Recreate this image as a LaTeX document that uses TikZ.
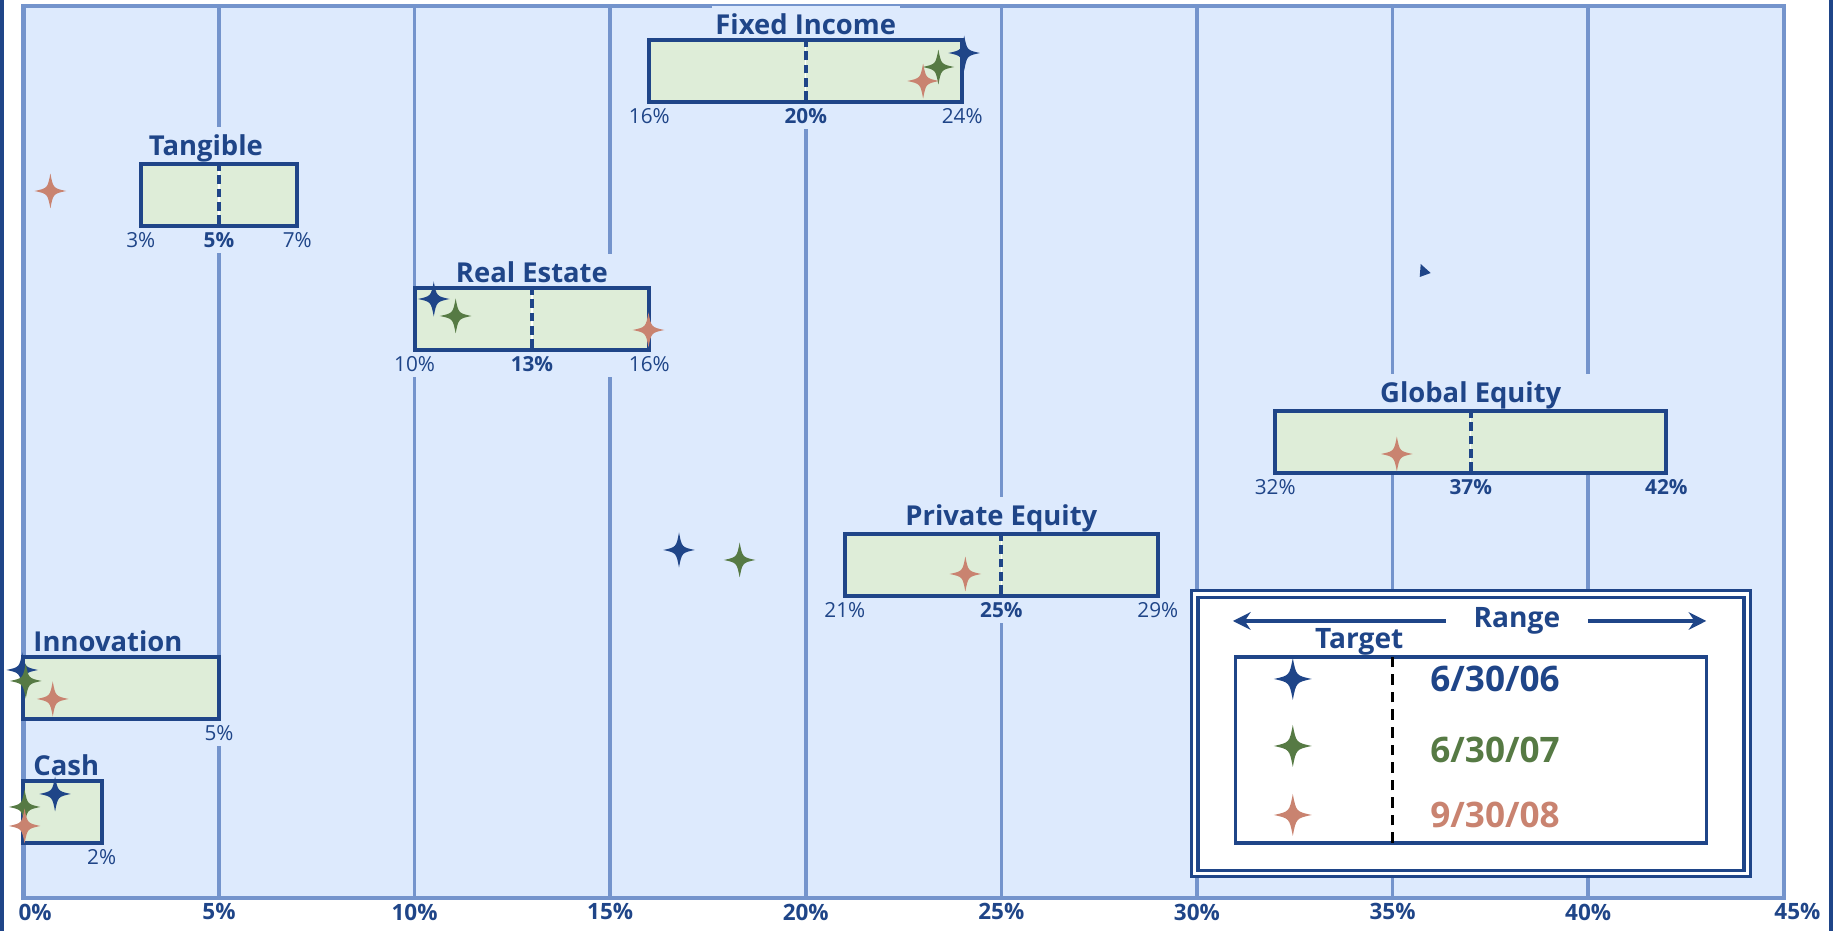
\documentclass[tikz,border=0pt]{standalone}
\usepackage{fontspec}
\setmainfont{Open Sans}
\usetikzlibrary{arrows.meta}

\definecolor{navy}{RGB}{31,69,136}
\definecolor{plotbg}{RGB}{221,234,253}
\definecolor{gridc}{RGB}{116,148,204}
\definecolor{boxfill}{RGB}{222,237,216}
\definecolor{moss}{RGB}{86,122,68}
\definecolor{clay}{RGB}{201,131,112}

\tikzset{
  gridline/.style={gridc, line width=1pt},
  rangebox/.style={draw=navy, fill=boxfill, line width=1.1pt},
  target/.style={navy, line width=1.1pt, dash pattern=on 2.5pt off 1.3pt,
    shorten <=0.55pt, shorten >=0.55pt, preaction={draw=white, solid}},
  title/.style={text=navy, fill=plotbg, inner xsep=1pt, inner ysep=2pt,
    font=\bfseries\fontsize{7.8}{9}\selectfont},
  pct/.style={text=navy, fill=plotbg, inner sep=1.5pt,
    font=\fontsize{5.9}{7}\selectfont},
  pctb/.style={pct, font=\bfseries\fontsize{5.9}{7}\selectfont},
  axislabel/.style={text=navy, font=\bfseries\fontsize{6.4}{7}\selectfont},
  legtext/.style={anchor=west, inner sep=0pt, font=\bfseries\fontsize{10}{12}\selectfont},
}

%% four pointed marker: [scale]{colour}{percent}{height}
\newcommand\spark[4][1]{%
  \fill[#2, shift={(#3,#4)}, scale=#1]
    (0cm,0.175cm) .. controls (0.028cm,0.028cm) .. (0.158cm,0cm)
    .. controls (0.028cm,-0.028cm) .. (0cm,-0.175cm)
    .. controls (-0.028cm,-0.028cm) .. (-0.158cm,0cm)
    .. controls (-0.028cm,0.028cm) .. (0cm,0.175cm) -- cycle;}

\begin{document}
\begin{tikzpicture}[x=0.3912cm, y=1cm]

\useasboundingbox (-0.598,-0.33) rectangle (46.26,8.98);

%% plot area and grid
\fill[plotbg] (0,0) rectangle (45,8.92);
\foreach \p in {5,10,...,40}
  \draw[gridline] (\p,0) -- (\p,8.92);
\draw[gridline, line width=1.2pt] (0,0) rectangle (45,8.92);

%% Fixed Income
\node[title] (fixed) at (20,8.74) {Fixed Income};
\node[pct] (fixedlo) at (16,7.82) {16\%};
\node[pctb] (fixedtg) at (20,7.82) {20\%};
\node[pct] (fixedhi) at (24,7.82) {24\%};
\draw[rangebox] (16,7.96) rectangle (24,8.58);
\draw[target] (20,7.96) -- (20,8.58);

%% Tangible
\node[title, anchor=west] (tang) at (3.1,7.50) {Tangible};
\node[pct] (tanglo) at (3,6.58) {3\%};
\node[pctb] (tangtg) at (5,6.58) {5\%};
\node[pct] (tanghi) at (7,6.58) {7\%};
\draw[rangebox] (3,6.72) rectangle (7,7.34);
\draw[target] (5,6.72) -- (5,7.34);

%% Real Estate
\node[title, minimum width=1.8cm] (reale) at (13,6.26) {Real Estate};
\node[pct] (realelo) at (10,5.34) {10\%};
\node[pctb] (realetg) at (13,5.34) {13\%};
\node[pct, minimum width=1cm] (realehi) at (16,5.34) {16\%};
\draw[rangebox] (10,5.48) rectangle (16,6.10);
\draw[target] (13,5.48) -- (13,6.10);

%% Global Equity
\node[title, minimum width=3.9cm] (global) at (37,5.03) {Global Equity};
\node[pct] (globallo) at (32,4.11) {32\%};
\node[pctb] (globaltg) at (37,4.11) {37\%};
\node[pctb] (globalhi) at (42,4.11) {42\%};
\draw[rangebox] (32,4.25) rectangle (42,4.87);
\draw[target] (37,4.25) -- (37,4.87);

%% Private Equity
\node[title] (priv) at (25,3.80) {Private Equity};
\node[pct] (privlo) at (21,2.88) {21\%};
\node[pctb] (privtg) at (25,2.88) {25\%};
\node[pct] (privhi) at (29,2.88) {29\%};
\draw[rangebox] (21,3.02) rectangle (29,3.64);
\draw[target] (25,3.02) -- (25,3.64);

%% Innovation
\node[title, anchor=west] (innov) at (0.15,2.57) {Innovation};
\node[pct] (innovhi) at (5,1.65) {5\%};
\draw[rangebox] (0,1.79) rectangle (5,2.41);

%% Cash
\node[title, anchor=west] (cash) at (0.15,1.33) {Cash};
\node[pct] (cashhi) at (2,0.41) {2\%};
\draw[rangebox] (0,0.55) rectangle (2,1.17);

%% markers: 6/30/06, 6/30/07, 9/30/08
\spark{moss}{23.39}{8.31} \spark{clay}{23.0}{8.17} \spark{navy}{24.05}{8.45}
\spark{clay}{0.69}{7.07}
\spark{navy}{10.49}{5.99} \spark{moss}{11.05}{5.82} \spark{clay}{15.98}{5.68}
\spark{clay}{35.11}{4.44}
\spark{navy}{16.76}{3.48} \spark{moss}{18.31}{3.38} \spark{clay}{24.08}{3.24}
\spark{navy}{-0.03}{2.28} \spark{moss}{0.06}{2.17} \spark{clay}{0.75}{1.99}
\spark{navy}{0.81}{1.04} \spark{moss}{0.03}{0.91} \spark{clay}{0.03}{0.72}
\fill[navy] (35.72,6.27) ++(0cm,0.07cm) -- ++(0.1cm,-0.09cm) -- ++(-0.11cm,-0.04cm) -- cycle;

%% axis
\foreach \p in {5,10,...,40}
  \node[axislabel] (ax\p) at (\p,-0.14) {\p\%};
\node[axislabel] (ax0) at (0.3,-0.14) {0\%};
\node[axislabel] (ax45) at (45.35,-0.14) {45\%};

%% legend
\draw[navy, line width=0.9pt, double=white, double distance=1pt, fill=white]
  (29.94,0.245) rectangle (44.07,3.04);
\draw[navy, line width=1pt] (30.98,0.55) rectangle (43.02,2.41);
\draw[black, line width=1pt, dash pattern=on 3pt off 2pt] (35,0.55) -- (35,2.41);
\node[text=navy, inner xsep=0.27cm, font=\bfseries\fontsize{8}{9}\selectfont]
  (range) at (38.18,2.77) {Range};
\coordinate (rangeL) at (30.92,2.77);
\coordinate (rangeR) at (43.02,2.77);
\draw[navy, line width=1.1pt, -{Stealth[length=5pt, width=5pt]}] (range.west) -- (rangeL);
\draw[navy, line width=1.1pt, -{Stealth[length=5pt, width=5pt]}] (range.east) -- (rangeR);
\node[text=navy, font=\bfseries\fontsize{8}{9}\selectfont] (targetlbl) at (34.15,2.56) {Target};

\spark[1.2]{navy}{32.45}{2.19}
\spark[1.2]{moss}{32.45}{1.52}
\spark[1.2]{clay}{32.45}{0.83}
\node[legtext, text=navy] (d06) at (35.95,2.19) {6/30/06};
\node[legtext, text=moss] (d07) at (35.95,1.48) {6/30/07};
\node[legtext, text=clay] (d08) at (35.95,0.83) {9/30/08};

%% frame edges
\draw[navy, line width=2pt] (-0.598,-0.33) -- (-0.598,8.98);
\draw[navy, line width=2.5pt] (46.26,-0.33) -- (46.26,8.98);

\end{tikzpicture}
\end{document}
